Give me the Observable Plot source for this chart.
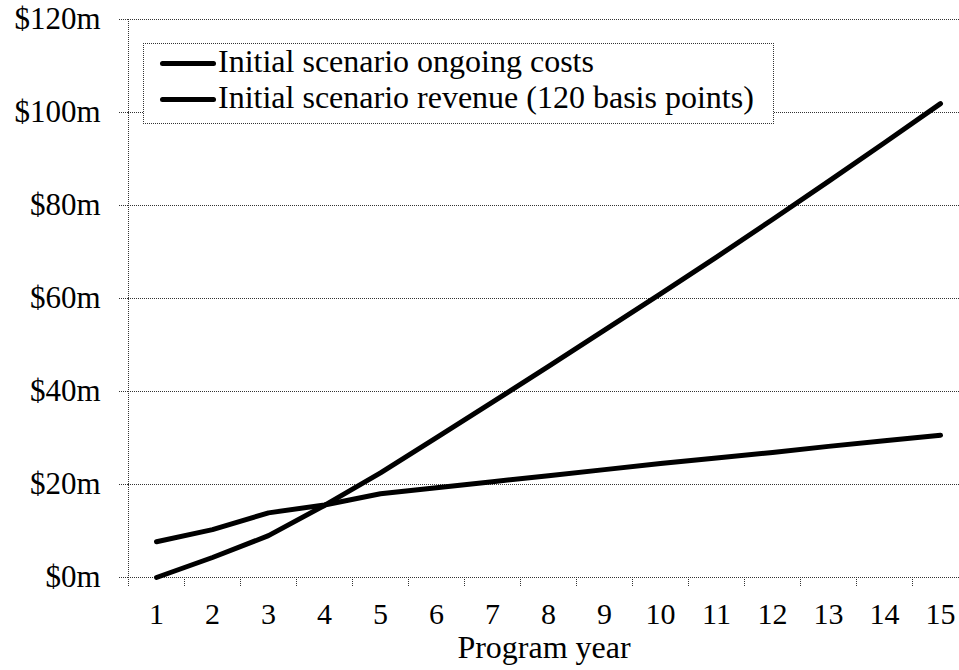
<!DOCTYPE html>
<html><head><meta charset="utf-8">
<script src="https://cdn.jsdelivr.net/npm/d3@7"></script>
<script src="https://cdn.jsdelivr.net/npm/@observablehq/plot@0.6"></script>
<style>
body{margin:0;background:#fff;}
#wrap{position:relative;width:959px;height:670px;overflow:hidden;}
#legend{position:absolute;left:143px;top:43px;width:631px;height:81px;border:1px dotted #333;box-sizing:border-box;background:#fff;}
.row{position:absolute;left:16px;height:34px;display:flex;align-items:center;white-space:nowrap;}
.row span.tx{font-family:"Liberation Serif","Times New Roman",serif;font-size:32px;color:#000;line-height:34px;}
.sw{width:56px;height:5px;background:#000;border-radius:3px;margin-right:2px;margin-top:4px;}
</style></head><body><div id="wrap"></div>
<script>
const years = [1,2,3,4,5,6,7,8,9,10,11,12,13,14,15];
const costs = [7.7,10.3,13.9,15.6,18.0,19.3,20.6,21.9,23.2,24.5,25.7,26.9,28.2,29.4,30.6];
const revenue = [0,4.3,9.0,15.5,22.5,30.1,37.7,45.4,53.2,61.0,68.9,77.0,85.2,93.5,101.9];
const seriesNames = ["Initial scenario ongoing costs","Initial scenario revenue (120 basis points)"];
const yTicks = [0,20,40,60,80,100,120];
const categoryEdges = [0.5,1.5,2.5,3.5,4.5,5.5,6.5,7.5,8.5,9.5,10.5,11.5,12.5,13.5,14.5];
const xTitle = "Program year";

const data = [
  ...years.map((y,i)=>({year:y,value:costs[i],series:seriesNames[0]})),
  ...years.map((y,i)=>({year:y,value:revenue[i],series:seriesNames[1]}))
];

const font = '"Liberation Serif","Times New Roman",serif';
const dots = {stroke:"#333", strokeWidth:1, strokeDasharray:"1,1"};

const chart = Plot.plot({
  width:959, height:670,
  marginLeft:128, marginRight:0, marginTop:19, marginBottom:93,
  style:{fontFamily:font, fontSize:"29px", background:"#fff", color:"#000"},
  x:{type:"linear", domain:[0.5,15.5], range:[128,968]},
  y:{domain:[0,120], range:[577,19]},
  marks:[
    Plot.ruleY(yTicks, dots),
    Plot.ruleX([0.5], dots),
    Plot.axisY({ticks:yTicks, tickSize:9, tickPadding:19, tickFormat:d=>`$${d}m`, label:null, fontSize:31, fontFamily:font, ...dots}),
    Plot.axisX({ticks:categoryEdges, tickSize:9, tickFormat:()=>"", label:null, ...dots}),
    Plot.axisX({ticks:years, tickSize:0, tickPadding:25, tickFormat:d=>String(d), fontSize:30, fontFamily:font, label:null}),
    Plot.text([xTitle], {frameAnchor:"bottom", lineAnchor:"bottom", dy:80, fontSize:32, fontFamily:font, fill:"#000"}),
    Plot.line(data, {x:"year", y:"value", z:"series", stroke:"#000", strokeWidth:5, strokeLinecap:"round", strokeLinejoin:"round"})
  ]
});
const wrap = document.getElementById("wrap");
wrap.appendChild(chart);
const legend = document.createElement("div");
legend.id = "legend";
seriesNames.forEach((name,i)=>{
  const row = document.createElement("div");
  row.className = "row";
  row.style.top = (i*36) + "px";
  const sw = document.createElement("span"); sw.className="sw";
  const tx = document.createElement("span"); tx.className="tx"; tx.textContent = name;
  row.appendChild(sw); row.appendChild(tx);
  legend.appendChild(row);
});
wrap.appendChild(legend);
</script></body></html>
